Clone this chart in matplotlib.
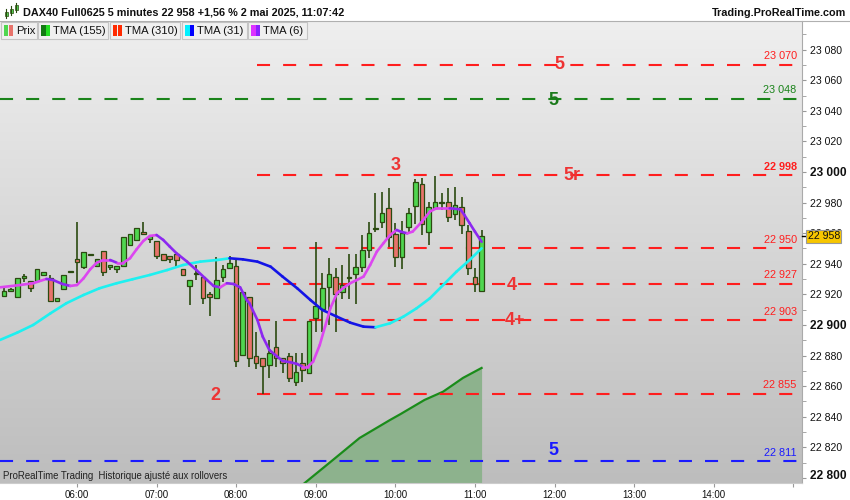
import matplotlib
matplotlib.use('Agg')
import matplotlib.pyplot as plt
import matplotlib.transforms as mtransforms
from matplotlib.collections import LineCollection
from matplotlib.colors import LinearSegmentedColormap
from matplotlib.patches import Rectangle
import numpy as np

plt.rcParams['font.family'] = ['Liberation Sans', 'DejaVu Sans']
plt.rcParams['lines.scale_dashes'] = False

W, H = 850, 500

# 5 minute candles, first bar 05:05, last bar 11:05
opens = [22919.0, 22922.0, 22918.0, 22931.0, 22929.0, 22929.0, 22932.5, 22930.5, 22915.5, 22923.5,
         22934.5, 22943.0, 22938.0, 22945.5, 22938.5, 22948.5, 22938.0, 22936.5, 22938.5, 22952.5,
         22955.5, 22961.0, 22956.0, 22955.0, 22946.5, 22945.0, 22946.5, 22936.5, 22925.5, 22933.0,
         22931.5, 22920.5, 22917.5, 22931.5, 22937.5, 22938.5, 22880.5, 22918.5, 22879.5, 22878.5,
         22874.0, 22885.5, 22878.5, 22879.5, 22862.5, 22875.0, 22868.5, 22904.5, 22910.5, 22925.0,
         22931.5, 22921.5, 22930.5, 22933.5, 22938.0, 22949.0, 22962.5, 22967.5, 22976.5, 22959.5,
         22944.5, 22964.0, 22978.0, 22992.0, 22961.0, 22976.5, 22980.0, 22980.5, 22972.5, 22977.0,
         22961.5, 22931.5, 22922.0]
highs = [22924.0, 22924.0, 22931.0, 22933.0, 22929.0, 22936.5, 22934.5, 22932.5, 22917.5, 22932.5,
         22935.0, 22967.0, 22948.0, 22945.5, 22943.0, 22948.5, 22939.0, 22938.5, 22957.5, 22959.5,
         22963.5, 22967.5, 22958.0, 22955.0, 22946.5, 22945.0, 22946.5, 22936.5, 22929.5, 22939.0,
         22931.5, 22921.5, 22944.5, 22939.0, 22945.0, 22943.0, 22921.5, 22918.5, 22895.5, 22878.5,
         22890.0, 22902.5, 22878.5, 22881.5, 22881.5, 22881.5, 22902.5, 22954.0, 22934.0, 22944.0,
         22937.5, 22939.0, 22946.5, 22946.5, 22959.0, 22967.5, 22986.5, 22987.0, 22989.5, 22966.5,
         22968.0, 22976.5, 22995.5, 22996.0, 22980.5, 22997.5, 22986.5, 22989.5, 22990.0, 22983.5,
         22965.5, 22937.5, 22962.0]
lows = [22918.0, 22921.5, 22918.0, 22928.0, 22921.5, 22929.0, 22932.5, 22915.5, 22915.5, 22923.5,
        22934.5, 22927.5, 22936.5, 22945.5, 22938.5, 22932.0, 22936.0, 22934.0, 22938.5, 22952.5,
        22955.5, 22959.5, 22953.5, 22943.0, 22942.5, 22940.5, 22938.0, 22932.5, 22913.0, 22929.5,
        22913.5, 22906.0, 22917.5, 22928.0, 22937.5, 22872.5, 22880.5, 22872.5, 22871.0, 22855.0,
        22865.5, 22872.5, 22868.5, 22862.5, 22860.0, 22862.5, 22868.5, 22895.5, 22895.5, 22900.0,
        22895.5, 22917.0, 22917.0, 22913.5, 22934.5, 22944.0, 22961.0, 22963.5, 22951.0, 22938.0,
        22936.5, 22961.0, 22966.0, 22959.0, 22952.5, 22975.0, 22975.0, 22967.5, 22968.5, 22959.5,
        22932.5, 22921.5, 22922.0]
closes = [22922.0, 22923.5, 22931.0, 22931.5, 22924.0, 22936.5, 22934.5, 22915.5, 22917.5, 22932.5,
          22935.0, 22941.0, 22948.0, 22945.5, 22943.0, 22934.5, 22939.0, 22938.5, 22957.5, 22959.5,
          22963.5, 22959.5, 22958.0, 22945.0, 22942.5, 22943.0, 22942.5, 22932.5, 22929.5, 22933.0,
          22917.5, 22918.5, 22929.5, 22936.5, 22940.5, 22876.5, 22921.5, 22878.5, 22875.0, 22873.0,
          22881.5, 22878.5, 22875.0, 22865.5, 22869.5, 22870.5, 22902.5, 22912.5, 22924.0, 22933.5,
          22920.5, 22926.0, 22930.5, 22938.0, 22949.0, 22960.0, 22963.0, 22973.0, 22957.5, 22944.5,
          22960.0, 22973.0, 22993.5, 22966.0, 22977.0, 22980.5, 22980.5, 22970.5, 22978.5, 22965.5,
          22937.5, 22927.0, 22958.0]
times = 305 + 5 * np.arange(len(opens))  # minutes since midnight

# TMA (6)
tma6_t = [302, 317, 327, 337, 342, 349, 355, 360, 365, 370, 375, 380, 385, 390, 395, 400, 405, 410,
          415, 420, 425, 430, 435, 443, 450, 458, 463, 468, 473, 478, 483, 488, 490, 496, 500, 505,
          511, 515, 521, 526, 530, 534, 538, 543, 547, 551, 556, 561, 566, 571, 576, 581, 586, 591,
          596, 601, 604, 609, 613, 620, 626, 631, 641, 649, 652, 656, 660, 665]
tma6_v = [22924.6, 22926.1, 22927.3, 22930.1, 22929.4, 22926.8, 22925.5, 22926.1, 22930.5, 22936.4,
          22940.7, 22942.5, 22942.5, 22940.7, 22940.7, 22943.6, 22949.5, 22954.9, 22958.2, 22958.8,
          22955.6, 22951.2, 22946.9, 22941.4, 22935.9, 22929.4, 22925.5, 22924.6, 22927.3, 22926.8,
          22924.6, 22916.3, 22914.2, 22903.3, 22892.4, 22883.7, 22879.3, 22876.5, 22875.6, 22874.5,
          22872.7, 22872.7, 22876.0, 22886.9, 22898.9, 22910.9, 22920.7, 22924.4, 22927.3, 22929.4,
          22931.6, 22939.2, 22947.9, 22953.4, 22958.8, 22962.1, 22961.0, 22959.9, 22961.0, 22967.5,
          22974.1, 22976.3, 22976.3, 22975.6, 22971.9, 22966.5, 22961.0, 22954.4]

# TMA (31)
tma31_t = [302, 315, 327, 340, 352, 365, 377, 390, 402, 415, 428, 440, 453, 466, 475, 485, 496, 506,
           515, 526, 536, 545, 556, 566, 576, 585, 596, 606, 616, 626, 636, 646, 656, 665]
tma31_v = [22890.2, 22895.0, 22900.0, 22907.6, 22914.2, 22919.6, 22924.0, 22927.3, 22929.9, 22932.7,
           22935.9, 22939.2, 22941.4, 22942.5, 22943.6, 22942.9, 22941.4, 22938.1, 22931.6, 22924.0,
           22916.3, 22909.8, 22905.4, 22901.5, 22898.9, 22898.5, 22901.1, 22905.4, 22910.9, 22917.4,
           22926.1, 22934.8, 22942.5, 22950.1]

# green filled curve at the bottom
area_t = [528, 553, 573, 596, 604, 622, 636, 651, 665]
area_v = [22794.1, 22811.8, 22826.1, 22837.9, 22841.8, 22851.0, 22856.4, 22865.4, 22871.9]

# horizontal levels
level_values = [23070, 23048, 22998, 22950, 22927, 22903, 22855, 22811]
level_start = [496, 302, 496, 496, 496, 496, 496, 302]
level_kind = ['r', 'g', 'r', 'r', 'r', 'r', 'r', 'b']

# wave counts
wave_text = ['5', '5', '3', '5r', '4', '4+', '2', '5']
wave_t = [724, 719, 600, 733, 688, 690, 464, 719]
wave_v = [23070, 23047, 23004, 22998, 22926, 22903, 22854, 22818]
wave_kind = ['r', 'g', 'r', 'r', 'r', 'r', 'r', 'b']

hour_ticks = [360, 420, 480, 540, 600, 660, 720, 780, 840, 900]
hour_labels = ['06:00', '07:00', '08:00', '09:00', '10:00', '11:00', '12:00', '13:00', '14:00', '']

kind_color = {'r': '#ff1e1e', 'g': '#1a841a', 'b': '#1a1aff'}
text_color = {'r': '#ee3333', 'g': '#1a7a1a', 'b': '#1a1aff'}


def fmt(v):
    return f'{v:,.0f}'.replace(',', ' ')


def px(x, y):
    return x / W, 1 - y / H


fig = plt.figure(figsize=(W / 100, H / 100), dpi=100)
ax = fig.add_axes([0, 17 / H, 802 / W, 462 / H])
ax.set_autoscale_on(False)
ax.set_xlim(302, 906.5)
ax.set_ylim(22796.7, 23098.7)

bg = LinearSegmentedColormap.from_list('bg', ['#bdbdbd', '#efefef'])
ax.imshow(np.linspace(0, 1, 256).reshape(-1, 1), extent=[0, 1, 0, 1], transform=ax.transAxes,
          cmap=bg, aspect='auto', origin='lower', zorder=0)

# filled curve
ax.fill_between(area_t, area_v, 22780, color='#8db28d', lw=0, zorder=1)
ax.plot(area_t, area_v, color='#1a8c1a', lw=1.6, zorder=2)

# levels
for v, s, k in zip(level_values, level_start, level_kind):
    ax.hlines(v, s, 905, colors=kind_color[k], lw=1.5, linestyles=[(0, (9.4, 9.4))], zorder=2)
    ax.annotate(fmt(v), xy=(902.5, v), xytext=(0, 2.5), textcoords='offset points',
                ha='right', va='bottom', fontsize=7.8, color=kind_color[k],
                fontweight='bold' if v == 22998 else 'normal', zorder=6)

# candles
o = np.array(opens)
c = np.array(closes)
up = c >= o
ax.vlines(times, lows, highs, color='#2b4a10', lw=1.2, zorder=3)
ax.bar(times, np.maximum(np.abs(c - o), 0.7), bottom=np.minimum(o, c), width=3.5,
       color=np.where(up, '#4fd64f', '#e8736b'), edgecolor='#2b4a10', linewidth=0.9, zorder=4)


def slope_line(t, v, c_up, c_dn, lw):
    pts = np.column_stack([t, v])
    segs = np.stack([pts[:-1], pts[1:]], axis=1)
    cols = [c_up if b >= a else c_dn for a, b in zip(v[:-1], v[1:])]
    ax.add_collection(LineCollection(segs, colors=cols, linewidths=lw, capstyle='round', zorder=5))


slope_line(tma31_t, tma31_v, '#1ef0f0', '#1414e6', 1.9)
slope_line(tma6_t, tma6_v, '#dc46f0', '#8c28f0', 1.9)

for s, t, v, k in zip(wave_text, wave_t, wave_v, wave_kind):
    ax.text(t, v, s, ha='center', va='center', fontsize=13, fontweight='bold',
            color=text_color[k], zorder=6)

# axes cosmetics
for side in ['left', 'top']:
    ax.spines[side].set_visible(False)
ax.spines['right'].set_color('#aaaaaa')
ax.spines['bottom'].set_color('#cccccc')
ax.spines['right'].set_linewidth(0.8)
ax.spines['bottom'].set_linewidth(0.8)

yt = np.arange(22800, 23081, 20)
ax.yaxis.tick_right()
ax.set_yticks(yt)
ax.set_yticks(np.arange(22810, 23091, 20), minor=True)
ax.set_yticklabels([fmt(v) for v in yt])
ax.tick_params(axis='y', which='both', direction='out', length=3, color='#999999', pad=3,
               labelsize=7.6, labelcolor='#111111')
for lab, v in zip(ax.get_yticklabels(), yt):
    if v % 100 == 0:
        lab.set_fontweight('bold')
        lab.set_fontsize(8.6)
    if v == 22800:
        # the bottom label sits a little higher so it is not cut
        lab.set_transform(lab.get_transform() + mtransforms.ScaledTranslation(0, 3 / 100, fig.dpi_scale_trans))

ax.set_xticks(hour_ticks)
ax.set_xticklabels(hour_labels)
ax.tick_params(axis='x', direction='out', length=3, color='#999999', pad=2, labelsize=7,
               labelcolor='#111111')

# current price box
trans = mtransforms.blended_transform_factory(ax.transAxes, ax.transData)
ax.plot([1.0, 1.006], [closes[-1]] * 2, transform=trans, color='k', lw=1, clip_on=False, zorder=9)
ax.text(1.007, closes[-1], fmt(closes[-1]), transform=trans, ha='left', va='center', fontsize=7.6,
        color='#111111', zorder=10, clip_on=False,
        bbox=dict(boxstyle='square,pad=0.15', fc='#f7c600', ec='#999999', lw=0.8))

# watermark
fig.text(*px(3, 476), 'ProRealTime Trading  Historique ajusté aux rollovers', fontsize=6.9,
         color='#222222', va='center', ha='left')

# title bar
fig.add_artist(plt.Line2D([0, 1], [1 - 20.5 / H] * 2, color='#b0b0b0', lw=0.8,
                          transform=fig.transFigure))
fig.text(*px(23, 12.5), 'DAX40 Full0625 5 minutes 22 958 +1,56 % 2 mai 2025, 11:07:42',
         fontsize=7.8, fontweight='bold', va='center', ha='left', color='#111111')
fig.text(*px(846, 12.5), 'Trading.ProRealTime.com', fontsize=7.8, fontweight='bold',
         va='center', ha='right', color='#111111')
for x0, y0, y1, w0, w1 in [(6, 12, 16, 9, 18), (11, 9, 13, 6, 15), (16, 5, 10, 3, 12)]:
    fig.add_artist(plt.Line2D([x0 / W] * 2, [1 - w0 / H, 1 - w1 / H], color='#2b4a10', lw=0.8,
                              transform=fig.transFigure))
    fig.add_artist(Rectangle(px(x0 - 1.5, y1), 3 / W, (y1 - y0) / H, transform=fig.transFigure,
                             fc='#4fd64f', ec='#2b4a10', lw=0.5))

# legend row
legend_items = [('Prix', '#4fd64f', '#e8736b', 1, 36),
                ('TMA (155)', '#127a12', '#22e022', 38, 70),
                ('TMA (310)', '#ff2a00', '#ff2a00', 110, 70),
                ('TMA (31)', '#00f0ff', '#0000ff', 182, 65),
                ('TMA (6)', '#dd33ff', '#8a22ff', 248, 59)]
for name, c1, c2, x0, w in legend_items:
    fig.add_artist(Rectangle(px(x0, 39), w / W, 17 / H, transform=fig.transFigure,
                             fc='#f0f0f0', ec='#c4c4c4', lw=0.8))
    fig.add_artist(Rectangle(px(x0 + 3, 36), 4.5 / W, 11 / H, transform=fig.transFigure,
                             fc=c1, ec='none'))
    fig.add_artist(Rectangle(px(x0 + 7.5, 36), 4.5 / W, 11 / H, transform=fig.transFigure,
                             fc=c2, ec='none'))
    fig.text(*px(x0 + 15, 30.5), name, fontsize=8.1, va='center', ha='left', color='#111111')

fig.savefig('out.png', dpi=100)
